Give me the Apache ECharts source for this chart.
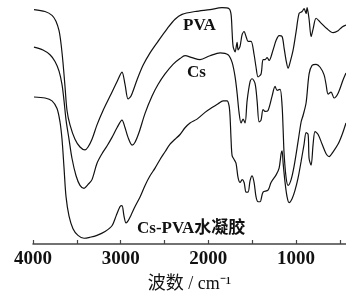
<!DOCTYPE html>
<html>
<head>
<meta charset="utf-8">
<script src="https://cdn.jsdelivr.net/npm/echarts@6/dist/echarts.min.js"></script>
<style>
  html, body { margin: 0; padding: 0; background: #fff; }
  #chart { width: 346px; height: 298px; }
</style>
</head>
<body>
<div id="chart"></div>
<script>
// wavenumber (cm-1) / relative transmittance
var pvaWn = [3989, 3863, 3783, 3738, 3703, 3681, 3658, 3635, 3612, 3578, 3521, 3464, 3407, 3372, 3327, 3270, 3201, 3121, 3042, 2985, 2950, 2916, 2882, 2813, 2745, 2665, 2574, 2471, 2380, 2300, 2152, 1981, 1844, 1764, 1741, 1729, 1718, 1695, 1672, 1661, 1638, 1615, 1592, 1570, 1547, 1513, 1478, 1456, 1433, 1399, 1376, 1353, 1330, 1307, 1262, 1227, 1193, 1159, 1136, 1113, 1090, 1068, 1033, 999, 965, 931, 908, 885, 874, 851, 828, 805, 771, 725, 646, 577, 520, 474, 430];
var pvaT = [244, 242, 238, 232, 222, 209, 189, 164, 139, 124, 109, 101, 98, 101, 109, 124, 139, 154, 169, 179, 166, 151, 154, 171, 186, 199, 211, 224, 234, 239, 242, 244, 246, 245, 239, 221, 206, 200, 210, 202, 206, 218, 221, 216, 211, 211, 197, 184, 174, 177, 192, 192, 194, 191, 202, 212, 217, 216, 204, 191, 183, 189, 202, 221, 240, 242, 245, 240, 246, 234, 216, 224, 235, 231, 224, 220, 222, 226, 228];

var csWn = [3989, 3886, 3806, 3749, 3703, 3669, 3646, 3623, 3589, 3555, 3509, 3464, 3418, 3372, 3327, 3270, 3213, 3156, 3099, 3042, 2985, 2950, 2916, 2870, 2836, 2791, 2722, 2642, 2574, 2494, 2403, 2323, 2266, 2186, 2095, 1981, 1866, 1775, 1729, 1695, 1672, 1650, 1627, 1604, 1581, 1558, 1524, 1501, 1467, 1444, 1421, 1399, 1376, 1353, 1319, 1273, 1239, 1216, 1182, 1159, 1147, 1136, 1113, 1090, 1056, 1022, 976, 942, 919, 885, 851, 817, 771, 725, 680, 657, 634, 600, 566, 520, 463, 430];
var csT = [205, 202, 197, 190, 180, 166, 149, 129, 109, 89, 71, 61, 58, 62, 67, 84, 94, 102, 111, 121, 129, 121, 111, 103, 106, 116, 136, 154, 166, 177, 187, 193, 196, 194, 192, 196, 199, 197, 189, 174, 157, 137, 126, 130, 126, 149, 169, 172, 167, 149, 127, 129, 140, 138, 139, 154, 164, 160, 161, 144, 119, 94, 69, 61, 67, 81, 107, 127, 134, 147, 177, 186, 187, 184, 176, 166, 156, 158, 152, 157, 171, 178];

var gelWn = [3989, 3863, 3783, 3726, 3692, 3669, 3646, 3623, 3589, 3544, 3487, 3418, 3350, 3270, 3178, 3099, 3053, 3007, 2985, 2962, 2939, 2916, 2882, 2836, 2779, 2722, 2665, 2608, 2551, 2494, 2437, 2380, 2323, 2266, 2209, 2129, 2038, 1958, 1889, 1832, 1787, 1764, 1752, 1741, 1729, 1706, 1684, 1661, 1638, 1615, 1592, 1570, 1547, 1524, 1501, 1478, 1456, 1433, 1410, 1376, 1319, 1285, 1227, 1193, 1170, 1159, 1147, 1125, 1102, 1079, 1045, 1011, 976, 942, 908, 885, 862, 851, 828, 805, 783, 748, 703, 657, 623, 577, 520, 474, 430];
var gelT = [153, 152, 149, 141, 127, 109, 79, 49, 29, 16, 9, 6, 7, 9, 13, 19, 29, 39, 40, 29, 22, 24, 30, 39, 49, 61, 71, 79, 88, 96, 104, 109, 114, 121, 126, 130, 137, 142, 146, 149, 149, 144, 132, 109, 92, 88, 84, 69, 64, 67, 64, 54, 54, 66, 71, 64, 49, 44, 44, 54, 56, 64, 72, 79, 94, 97, 84, 64, 49, 43, 47, 56, 69, 86, 104, 116, 114, 89, 82, 104, 117, 114, 104, 94, 91, 96, 104, 114, 126];

var labelTicks = [4000, 3000, 2000, 1000];
var minorTicks = [4000, 3500, 3000, 2500, 2000, 1500, 1000, 500];

function pairs(wn, t) {
  return wn.map(function (w, i) { return [w, t[i]]; });
}

var serif = '"Liberation Serif", "Times New Roman", serif';
var cjk = '"Liberation Serif", "Noto Sans CJK SC", serif';

var lineStyle = { color: '#111', width: 1.2 };

var chart = echarts.init(document.getElementById('chart'));
chart.setOption({
  animation: false,
  backgroundColor: '#fff',
  grid: { left: 33, right: 0, top: 0, bottom: 44 },
  xAxis: {
    type: 'value',
    inverse: true,
    min: 430,
    max: 4000,
    splitLine: { show: false },
    axisLine: { onZero: false, lineStyle: { color: '#444', width: 1.5 } },
    axisTick: {
      inside: true,
      length: 4,
      customValues: minorTicks,
      lineStyle: { color: '#444', width: 1.2 }
    },
    axisLabel: {
      customValues: labelTicks,
      formatter: function (v) { return String(v); },
      color: '#111',
      fontFamily: serif,
      fontWeight: 'bold',
      fontSize: 19,
      margin: 6
    },
    name: '波数 / cm⁻¹',
    nameLocation: 'middle',
    nameGap: 31,
    nameTextStyle: { color: '#111', fontFamily: cjk, fontSize: 18 }
  },
  yAxis: {
    type: 'value',
    min: 0,
    max: 254,
    show: false
  },
  graphic: [
    { type: 'text', left: 183, top: 17, style: { text: 'PVA', font: 'bold 17px ' + serif, fill: '#111' } },
    { type: 'text', left: 187, top: 64, style: { text: 'Cs', font: 'bold 17px ' + serif, fill: '#111' } },
    { type: 'text', left: 137, top: 220, style: { text: 'Cs-PVA水凝胶', font: 'bold 17px ' + cjk, fill: '#111' } }
  ],
  series: [
    { name: 'PVA', type: 'line', data: pairs(pvaWn, pvaT), showSymbol: false, smooth: 0.3, lineStyle: lineStyle },
    { name: 'Cs', type: 'line', data: pairs(csWn, csT), showSymbol: false, smooth: 0.3, lineStyle: lineStyle },
    { name: 'Cs-PVA水凝胶', type: 'line', data: pairs(gelWn, gelT), showSymbol: false, smooth: 0.3, lineStyle: lineStyle }
  ]
});
</script>
</body>
</html>
